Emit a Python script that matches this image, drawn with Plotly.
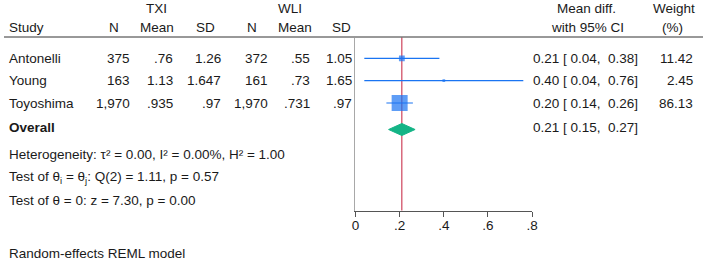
import plotly.graph_objects as go

# ---------------- data ----------------
studies = ["Antonelli", "Young", "Toyoshima"]
txi_n = [375, 163, 1970]
txi_mean = [0.76, 1.13, 0.935]
txi_sd = [1.26, 1.647, 0.97]
wli_n = [372, 161, 1970]
wli_mean = [0.55, 0.73, 0.731]
wli_sd = [1.05, 1.65, 0.97]
md = [0.21, 0.40, 0.20]
md_lo = [0.04, 0.04, 0.14]
md_hi = [0.38, 0.76, 0.26]
weight = [11.42, 2.45, 86.13]
overall = [0.21, 0.15, 0.27]  # estimate, lower, upper
tick_vals = [0, 0.2, 0.4, 0.6, 0.8]
tick_text = ["0", ".2", ".4", ".6", ".8"]
het_text = "Heterogeneity: τ² = 0.00, I² = 0.00%, H² = 1.00"
q_text = "Test of θ<sub>i</sub> = θ<sub>j</sub>: Q(2) = 1.11, p = 0.57"
z_text = "Test of θ = 0: z = 7.30, p = 0.00"
model_text = "Random-effects REML model"

# ---------------- layout helpers ----------------
W, H = 709, 262
FONT = "Liberation Sans, Arial, Helvetica, sans-serif"
FS = 13.5
TXT = "#1a1a1a"
BLUE = "#1a74f2"
GREEN = "#14b486"
RED = "#c41e3a"
NB = "\u00a0"
PAD = 4.5                          # compensation for annotation inner offset

AX_TOP, AX_BOT = 37.5, 210.5       # pixel rows of plot region
X0_PX, X1_PX = 356.5, 535.7        # pixel columns of 0 and .8
ROW_Y = [58.3, 80.7, 103.0]        # pixel rows of the studies
OVR_Y = 129.5
HALF_DIAMOND = 6.0
MAX_SQ = 16.0


def px(x):
    return x / W


def py(y):
    return 1 - y / H


def fmt_num(v):
    s = str(v)
    if s.startswith("0."):
        s = s[1:]
    return s


fig = go.Figure()

# CI lines
xs, ys = [], []
for lo, hi, y in zip(md_lo, md_hi, ROW_Y):
    xs += [lo, hi, None]
    ys += [y, y, None]
fig.add_trace(go.Scatter(x=xs, y=ys, mode="lines",
                         line=dict(color=BLUE, width=1.2),
                         hoverinfo="skip", showlegend=False))

# weighted squares
sizes = [MAX_SQ * (w / max(weight)) ** 0.5 for w in weight]
fig.add_trace(go.Scatter(x=md, y=ROW_Y, mode="markers",
                         marker=dict(symbol="square", size=sizes, color=BLUE,
                                     line=dict(width=0)),
                         showlegend=False))

# overall diamond
est, lo, hi = overall
fig.add_trace(go.Scatter(
    x=[lo, est, hi, est, lo],
    y=[OVR_Y, OVR_Y - HALF_DIAMOND, OVR_Y, OVR_Y + HALF_DIAMOND, OVR_Y],
    mode="lines", fill="toself", fillcolor=GREEN,
    line=dict(color=GREEN, width=1), showlegend=False, hoverinfo="skip"))

shapes = [
    # red overall line
    dict(type="line", xref="x", yref="paper", x0=est, x1=est,
         y0=py(AX_BOT), y1=py(AX_TOP), line=dict(color=RED, width=1), layer="below"),
    # header rule
    dict(type="line", xref="paper", yref="paper", x0=0, x1=1,
         y0=py(AX_TOP - 0.5), y1=py(AX_TOP - 0.5), line=dict(color="#333333", width=1)),
]

ann = []


def text(x, y, s, anchor="left", bold=False):
    if anchor == "left":
        x -= PAD
    elif anchor == "right":
        x += PAD
    ann.append(dict(x=px(x), y=py(y), xref="paper", yref="paper", text=("<b>%s</b>" % s) if bold else s,
                    xanchor=anchor, yanchor="middle", showarrow=False, borderpad=0,
                    font=dict(family=FONT, size=FS, color=TXT)))


# headers
text(155, 8.5, "TXI", "center")
text(290, 8.5, "WLI", "center")
text(591, 8.5, "Mean diff.", "center")
text(679.5, 8.5, "Weight", "center")
text(9, 27, "Study")
text(113.5, 27, "N", "right")
text(155.3, 27, "Mean", "center")
text(211, 27, "SD", "right")
text(253.5, 27, "N", "right")
text(295, 27, "Mean", "center")
text(348.5, 27, "SD", "right")
text(591.5, 27, "with 95% CI", "center")
text(678.5, 27, "(%)", "center")

# study rows
for i, y in enumerate(ROW_Y):
    text(9, y, studies[i])
    text(124.5, y, f"{txi_n[i]:,}", "right")
    text(167.5, y, fmt_num(txi_mean[i]), "right")
    text(217, y, fmt_num(txi_sd[i]), "right")
    text(264.5, y, f"{wli_n[i]:,}", "right")
    text(307, y, fmt_num(wli_mean[i]), "right")
    text(349.5, y, fmt_num(wli_sd[i]), "right")
    text(540, y, f"{md[i]:.2f} [{NB}{md_lo[i]:.2f},{NB}{NB}{md_hi[i]:.2f}]")
    text(695, y, f"{weight[i]:.2f}", "right")

text(9, OVR_Y - 1.5, "Overall", bold=True)
text(540, OVR_Y - 1.5, f"{est:.2f} [{NB}{lo:.2f},{NB}{NB}{hi:.2f}]")
text(9, 154, het_text)
text(9, 177.5, q_text)
text(9, 200.7, z_text)
text(9, 253.3, model_text)

fig.update_layout(
    width=W, height=H, autosize=False,
    margin=dict(l=0, r=0, t=0, b=0, pad=0),
    paper_bgcolor="white", plot_bgcolor="white",
    shapes=shapes, annotations=ann,
    xaxis=dict(domain=[px(X0_PX), px(X1_PX)], range=[0, 0.8],
               tickvals=tick_vals, ticktext=tick_text,
               showline=True, linecolor="#555555", linewidth=1,
               ticks="outside", ticklen=5, tickcolor="#555555",
               ticklabelstandoff=-3,
               showgrid=False, zeroline=False,
               tickfont=dict(family=FONT, size=FS, color=TXT)),
    yaxis=dict(domain=[py(AX_BOT), py(AX_TOP)], range=[AX_BOT, AX_TOP],
               showline=True, linecolor="#a8a8a8", linewidth=1,
               showticklabels=False, ticks="", showgrid=False, zeroline=False),
)

fig.write_html("out.html", config={"displayModeBar": False},
               post_script="document.body.style.margin='0';document.body.style.overflow='hidden';")
